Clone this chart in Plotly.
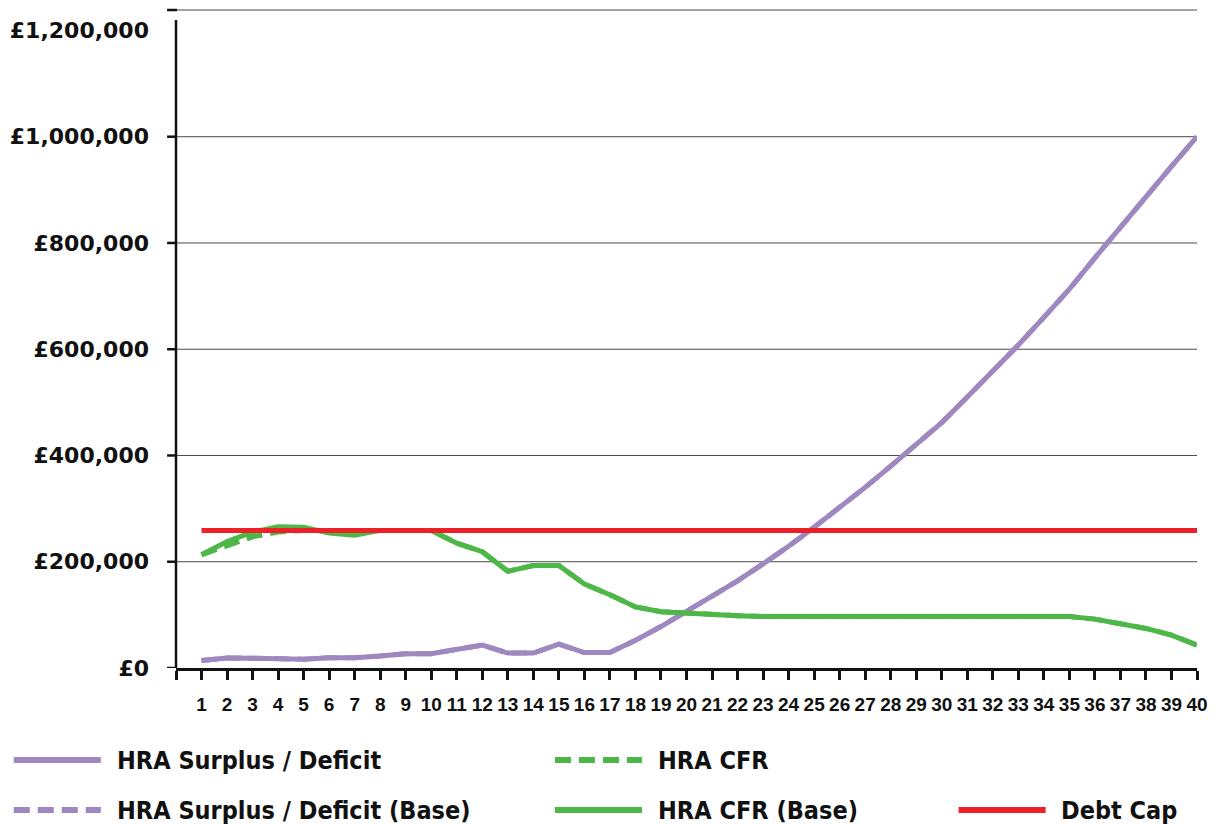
import plotly.graph_objects as go

# ---- data -------------------------------------------------------------
years = list(range(1, 41))

hra_surplus = [14000, 19000, 18500, 18000, 16500, 19500, 19500, 22500, 27000, 27000,
               35000, 43000, 28000, 28000, 45000, 29000, 29000, 52000, 78000, 106000,
               134000, 164000, 196000, 229000, 265000, 302000, 340000, 380000, 420000, 462000,
               510000, 558000, 608000, 660000, 713000, 772000, 830000, 887000, 944000, 1000000]

hra_surplus_base = [14000, 19000, 18500, 18000, 16500, 19500, 19500, 22500, 27000, 27000,
                    35000, 43000, 28000, 28000, 45000, 29000, 29000, 52000, 78000, 106000,
                    134000, 164000, 196000, 229000, 265000, 302000, 340000, 380000, 420000, 462000,
                    510000, 558000, 608000, 660000, 713000, 772000, 830000, 887000, 944000, 1000000]

hra_cfr = [213000, 231000, 247000, 256000, 259000, 259000, 259000, 259000, 259000, 259000,
           235000, 219000, 182000, 193000, 193000, 158000, 138000, 115000, 106000, 103000,
           101000, 98500, 97000, 97000, 97000, 97000, 97000, 97000, 97000, 97000,
           97000, 97000, 97000, 97000, 97000, 92000, 84000, 74500, 62000, 43000]

hra_cfr_base = [213000, 238000, 256000, 266000, 265000, 254000, 250000, 259000, 259000, 259000,
                235000, 219000, 182000, 193000, 193000, 158000, 138000, 115000, 106000, 103000,
                101000, 98500, 97000, 97000, 97000, 97000, 97000, 97000, 97000, 97000,
                97000, 97000, 97000, 97000, 97000, 92000, 84000, 74500, 62000, 43000]

debt_cap = [259000, 259000, 259000, 259000, 259000, 259000, 259000, 259000, 259000, 259000,
            259000, 259000, 259000, 259000, 259000, 259000, 259000, 259000, 259000, 259000,
            259000, 259000, 259000, 259000, 259000, 259000, 259000, 259000, 259000, 259000,
            259000, 259000, 259000, 259000, 259000, 259000, 259000, 259000, 259000, 259000]

y_ticks = [0, 200000, 400000, 600000, 800000, 1000000, 1200000]
y_tick_labels = ["£0", "£200,000", "£400,000", "£600,000", "£800,000", "£1,000,000", "£1,200,000"]
grid_values = [200000, 400000, 600000, 800000, 1000000]
x_ticks = list(range(0, 41))
x_tick_labels = [""] + [str(y) for y in years]

# ---- style ------------------------------------------------------------
PURPLE = "#9F88BF"
GREEN = "#4DB748"
RED = "#EE2027"
DASH = "16px,8px"
LW = 5
NARROW = "Liberation Sans Narrow, DejaVu Sans Condensed, Roboto"

W, H = 1218, 825
ML, MR, MT, MB = 174, 12, 10, 157
PW, PH = W - ML - MR, H - MT - MB


def px_x(px):
    return (px - ML) / PW


def px_y(py):
    return (H - MB - py) / PH


fig = go.Figure()

# drawing order: purple under green, red on top
fig.add_trace(go.Scatter(x=years, y=hra_surplus_base, mode="lines", name="HRA Surplus / Deficit (Base)",
                         line=dict(color=PURPLE, width=LW, dash=DASH), showlegend=False))
fig.add_trace(go.Scatter(x=years, y=hra_surplus, mode="lines", name="HRA Surplus / Deficit",
                         line=dict(color=PURPLE, width=LW), showlegend=False))
fig.add_trace(go.Scatter(x=years, y=hra_cfr_base, mode="lines", name="HRA CFR (Base)",
                         line=dict(color=GREEN, width=LW), showlegend=False))
fig.add_trace(go.Scatter(x=years, y=hra_cfr, mode="lines", name="HRA CFR",
                         line=dict(color=GREEN, width=LW, dash=DASH), showlegend=False))
fig.add_trace(go.Scatter(x=years, y=debt_cap, mode="lines", name="Debt Cap",
                         line=dict(color=RED, width=LW), showlegend=False))

shapes = []
# horizontal gridlines
for v in grid_values:
    shapes.append(dict(type="line", xref="paper", yref="y", x0=0, x1=1, y0=v, y1=v,
                       line=dict(color="#4a4a4a", width=1), layer="below"))
# y tick marks
for v in [0] + grid_values:
    shapes.append(dict(type="line", xref="paper", yref="y", x0=px_x(165), x1=0, y0=v, y1=v,
                       line=dict(color="#111", width=2.5)))
# top border line with its tick
shapes.append(dict(type="line", xref="paper", yref="paper", x0=px_x(165), x1=1, y0=1, y1=1,
                   line=dict(color="#4a4a4a", width=1)))
shapes.append(dict(type="line", xref="paper", yref="paper", x0=px_x(165), x1=px_x(175), y0=1, y1=1,
                   line=dict(color="#111", width=2.5)))
# vertical axis line
shapes.append(dict(type="line", xref="paper", yref="paper", x0=0, x1=0, y0=0, y1=px_y(20),
                   line=dict(color="#111", width=2.5)))

# legend drawn as line samples + labels
legend_items = [
    ("HRA Surplus / Deficit", PURPLE, "solid", 10, 760),
    ("HRA CFR", GREEN, DASH, 557, 760),
    ("HRA Surplus / Deficit (Base)", PURPLE, DASH, 10, 810),
    ("HRA CFR (Base)", GREEN, "solid", 557, 810),
    ("Debt Cap", RED, "solid", 965, 810),
]
annotations = []
for label, color, dash, lx, ly in legend_items:
    shapes.append(dict(type="line", xref="paper", yref="paper",
                       x0=px_x(lx), x1=px_x(lx + 88), y0=px_y(ly), y1=px_y(ly),
                       line=dict(color=color, width=6, dash=dash)))
    annotations.append(dict(text=label, xref="paper", yref="paper", x=px_x(lx + 102), y=px_y(ly),
                            xanchor="left", yanchor="middle", showarrow=False,
                            font=dict(family=NARROW, size=25, color="#111", weight="bold")))

fig.update_layout(
    width=W, height=H,
    margin=dict(l=ML, r=MR, t=MT, b=MB),
    paper_bgcolor="white", plot_bgcolor="white",
    showlegend=False,
    shapes=shapes,
    annotations=annotations,
    xaxis=dict(range=[0, 40], tickvals=x_ticks, ticktext=x_tick_labels, tickangle=0,
               showgrid=False, zeroline=False, showline=True, linecolor="#111", linewidth=2.5,
               ticks="outside", ticklen=9, tickwidth=2.5, tickcolor="#111",
               ticklabelstandoff=8,
               tickfont=dict(family="Liberation Sans", size=19, color="#111", weight="bold")),
    yaxis=dict(range=[0, 1238500], tickvals=y_ticks, ticktext=y_tick_labels,
               showgrid=False, zeroline=False, showline=False, ticks="",
               ticklabelstandoff=26,
               tickfont=dict(family="DejaVu Sans", size=22, color="#111", weight="bold")),
)

fig.write_html("out.html")
